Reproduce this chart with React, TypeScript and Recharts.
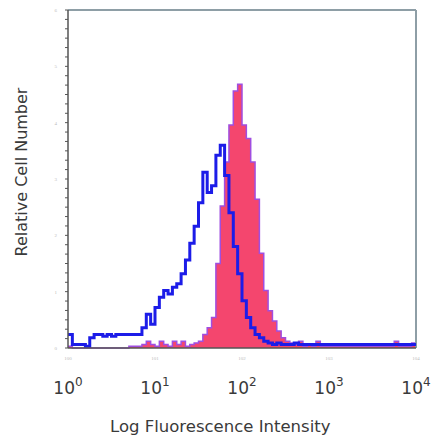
import React from 'react';
import { ComposedChart, Line, Area, XAxis, YAxis, ReferenceLine } from 'recharts';

// log10 of fluorescence intensity, one entry per histogram channel
const logIntensity = [
  0, 0.05, 0.1, 0.15, 0.2, 0.25, 0.3, 0.35, 0.4, 0.45,
  0.5, 0.55, 0.6, 0.65, 0.7, 0.75, 0.8, 0.85, 0.9, 0.95,
  1, 1.05, 1.1, 1.15, 1.2, 1.25, 1.3, 1.35, 1.4, 1.45,
  1.5, 1.55, 1.6, 1.65, 1.7, 1.75, 1.8, 1.85, 1.9, 1.95,
  2, 2.05, 2.1, 2.15, 2.2, 2.25, 2.3, 2.35, 2.4, 2.45,
  2.5, 2.55, 2.6, 2.65, 2.7, 2.75, 2.8, 2.85, 2.9, 2.95,
  3, 3.05, 3.1, 3.15, 3.2, 3.25, 3.3, 3.35, 3.4, 3.45,
  3.5, 3.55, 3.6, 3.65, 3.7, 3.75, 3.8, 3.85, 3.9, 3.95, 4,
];

// isotype control (blue outline)
const controlCounts = [
  4, 1, 1, 1, 0.5, 3, 4, 4, 3.5, 4,
  3.5, 4, 4, 4, 4, 4, 4, 6, 10, 7,
  12, 15, 17, 16, 18, 19, 22, 26, 31, 36,
  43, 52, 46, 48, 57, 60, 51, 40, 30, 22,
  14, 9, 6, 4, 3, 2, 1.5, 1, 1.5, 1,
  1, 1, 1.5, 1, 1, 1, 1, 1, 1, 1,
  1, 1, 1, 1, 1, 1, 1, 1, 1, 1,
  1, 1, 1, 1, 1, 1, 1, 1, 1, 1, 1,
];

// stained sample (red fill)
const stainedCounts = [
  0.5, 0, 0, 0, 0, 0, 0, 0, 0, 0,
  0, 0, 0, 0, 0.5, 0.5, 0.5, 1, 2, 1,
  0.5, 2, 1, 0.5, 2, 1, 2, 0.5, 1, 1.5,
  2, 4, 6, 9, 25, 42, 55, 66, 76, 78,
  66, 62, 55, 44, 28, 17, 11, 8, 5, 3,
  2, 1.5, 1, 2, 0.5, 1, 0.5, 2, 0.5, 0.5,
  0.5, 0.5, 0.5, 0.5, 0.5, 0.5, 0.5, 0.5, 0.5, 0.5,
  0.5, 0.5, 0.5, 0.5, 0.5, 2, 0.5, 0.5, 0.5, 1.5, 0.5,
];

const decadeTicks = [0, 1, 2, 3, 4];
const minorYTicks = [
  0, 2.78, 5.56, 8.33, 11.11, 13.89, 16.67, 19.44, 22.22, 25, 27.78, 30.56,
  33.33, 36.11, 38.89, 41.67, 44.44, 47.22, 50, 52.78, 55.56, 58.33, 61.11,
  63.89, 66.67, 69.44, 72.22, 75, 77.78, 80.56, 83.33, 86.11, 88.89, 91.67,
  94.44, 97.22, 100,
];

const data = logIntensity.map((x, i) => ({
  x,
  control: controlCounts[i],
  stained: stainedCounts[i],
}));

const DecadeTick = (props: any) => {
  const { x, y, payload } = props;
  return (
    <g>
      <text x={x} y={y + 4} textAnchor="middle" fontSize={5} fill="#bbb">
        10{payload.value}
      </text>
      <text x={x} y={y + 38} textAnchor="middle" fontSize={17} fill="#3a3a3a" fontFamily="DejaVu Sans">
        10
        <tspan dy={-8} fontSize={12}>{payload.value}</tspan>
      </text>
    </g>
  );
};

const MinorYTick = (props: any) => {
  const { x, y, index } = props;
  if (index % 6 !== 0) return null;
  return (
    <text x={x - 6} y={y + 2} textAnchor="end" fontSize={5} fill="#bbb">
      {index / 6}
    </text>
  );
};

export default function App() {
  return (
    <div style={{ position: 'absolute', left: 0, top: 0, width: 436, height: 441, background: '#fff' }}>
      <ComposedChart
        width={436}
        height={441}
        data={data}
        margin={{ top: 10, right: 20, left: 0, bottom: 0 }}
      >
        <XAxis
          dataKey="x"
          type="number"
          domain={[0, 4]}
          ticks={decadeTicks}
          tick={<DecadeTick />}
          tickLine={false}
          axisLine={{ stroke: '#555', strokeWidth: 1.5 }}
          height={93}
          interval={0}
        />
        <YAxis
          type="number"
          domain={[0, 100]}
          ticks={minorYTicks}
          tick={<MinorYTick />}
          tickSize={3}
          tickLine={{ stroke: '#555' }}
          axisLine={{ stroke: '#555', strokeWidth: 1.5 }}
          width={68}
          interval={0}
        />
        <ReferenceLine y={100} stroke="#8e9ea6" strokeWidth={2} />
        <ReferenceLine x={4} stroke="#8e9ea6" strokeWidth={2} />
        <Area
          type="stepAfter"
          dataKey="stained"
          fill="#f4466e"
          fillOpacity={1}
          stroke="#a04ee0"
          strokeWidth={1.5}
          isAnimationActive={false}
        />
        <Line
          type="stepAfter"
          dataKey="control"
          stroke="#1c1ce8"
          strokeWidth={3}
          dot={false}
          isAnimationActive={false}
        />
      </ComposedChart>
      <div
        style={{
          position: 'absolute',
          left: 110,
          top: 417,
          whiteSpace: 'nowrap',
          fontFamily: 'DejaVu Sans',
          fontSize: 16.5,
          color: '#3a3a3a',
        }}
      >
        Log Fluorescence Intensity
      </div>
      <div
        style={{
          position: 'absolute',
          left: 21,
          top: 172,
          transform: 'translate(-50%, -50%) rotate(-90deg)',
          whiteSpace: 'nowrap',
          fontFamily: 'DejaVu Sans',
          fontSize: 16,
          color: '#3a3a3a',
        }}
      >
        Relative Cell Number
      </div>
    </div>
  );
}
